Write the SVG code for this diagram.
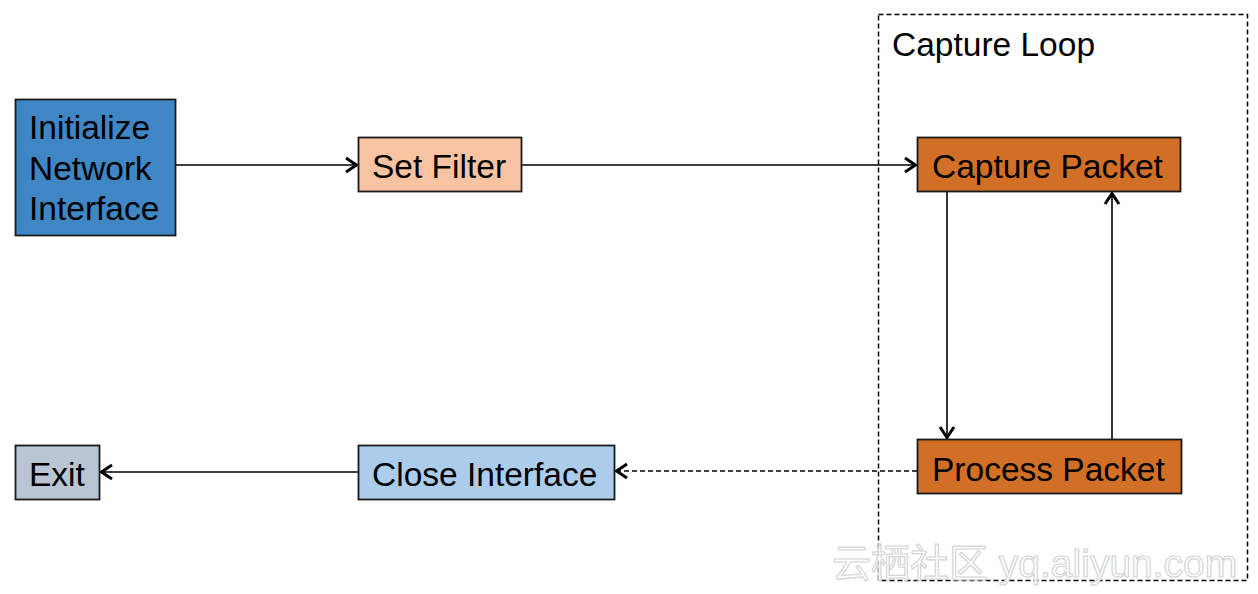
<svg xmlns="http://www.w3.org/2000/svg" width="1258" height="594" viewBox="0 0 1258 594">
<style>
.box{stroke:#1a1a1a;stroke-width:1.8}
.t{font-family:"Liberation Sans",Arial,sans-serif;font-size:33.5px;fill:#000}
.c{fill:none;stroke:#000;stroke-width:1.6}
.d{stroke-dasharray:5,3}
.wm{font-family:"Liberation Sans","Noto Sans CJK SC",sans-serif;font-size:39px;fill:#fff;stroke:#d0d0d0;stroke-width:1.2;opacity:0.9}
</style>
<defs>
<marker id="ah" viewBox="0 0 14 18" refX="13" refY="9" markerWidth="14" markerHeight="18" markerUnits="userSpaceOnUse" orient="auto">
<path d="M2,2 L12.5,9 L2,16" fill="none" stroke="#000" stroke-width="3"/>
</marker>
</defs>
<rect width="1258" height="594" fill="#fff"/>
<g id="capture-loop">
<rect x="878.5" y="14.5" width="369" height="566" fill="none" stroke="#000" stroke-width="1.5" stroke-dasharray="5,3"/>
<text class="t" x="892" y="56">Capture Loop</text>
</g>
<g id="connectors">
<line class="c" x1="176" y1="165" x2="357" y2="165" marker-end="url(#ah)"/>
<line class="c" x1="522" y1="165" x2="916" y2="165" marker-end="url(#ah)"/>
<line class="c" x1="947" y1="192" x2="947" y2="438" marker-end="url(#ah)"/>
<line class="c" x1="1112" y1="439" x2="1112" y2="193" marker-end="url(#ah)"/>
<line class="c d" x1="917" y1="471" x2="616" y2="471" marker-end="url(#ah)"/>
<line class="c" x1="358" y1="472" x2="101" y2="472" marker-end="url(#ah)"/>
</g>
<g id="init">
<rect class="box" x="15.5" y="99.5" width="160" height="136" fill="#3F86C5"/>
<text class="t" x="29" y="139">Initialize</text>
<text class="t" x="29" y="180">Network</text>
<text class="t" x="29" y="220">Interface</text>
</g>
<g id="set-filter">
<rect class="box" x="358.5" y="137.5" width="163" height="54" fill="#F8C3A1"/>
<text class="t" x="372" y="178">Set Filter</text>
</g>
<g id="capture-packet">
<rect class="box" x="917.5" y="137.5" width="263" height="54" fill="#D06F25"/>
<text class="t" x="932" y="178">Capture Packet</text>
</g>
<g id="process-packet">
<rect class="box" x="917.5" y="439.5" width="264" height="54" fill="#D06F25"/>
<text class="t" x="932" y="481">Process Packet</text>
</g>
<g id="close-interface">
<rect class="box" x="358.5" y="445.5" width="256" height="54" fill="#ABCDEB"/>
<text class="t" x="372" y="486">Close Interface</text>
</g>
<g id="exit">
<rect class="box" x="15.5" y="445.5" width="84" height="54" fill="#B9C5D3"/>
<text class="t" x="29" y="486">Exit</text>
</g>
<text class="wm" x="832" y="577">云栖社区 yq.aliyun.com</text>
</svg>
